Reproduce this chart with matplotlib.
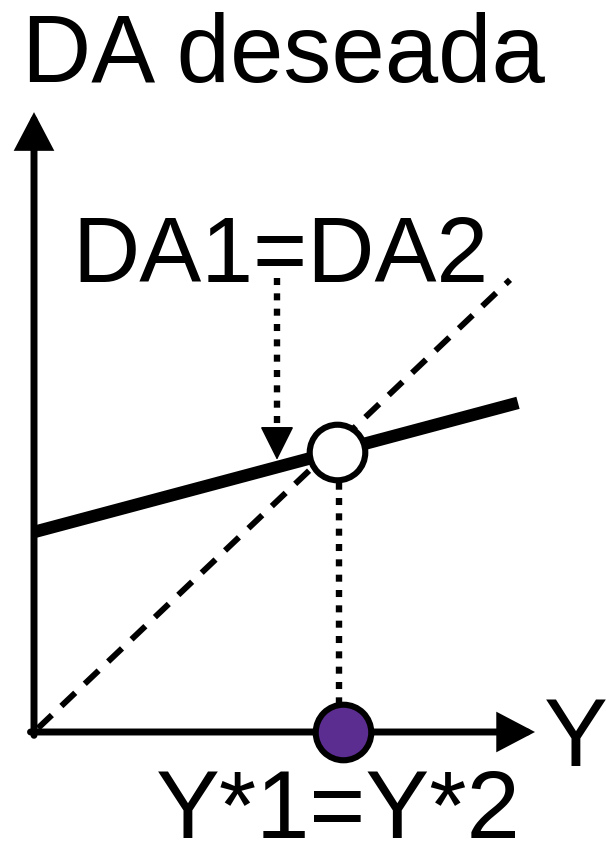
import matplotlib
matplotlib.use("Agg")
import matplotlib.pyplot as plt
from matplotlib.patches import ArrowStyle

# ---- data (diagram units) ----
y_axis_label = "DA deseada"
x_axis_label = "Y"
eq_label = "DA1=DA2"
ystar_label = "Y*1=Y*2"

line45_Y = [0.08, 9.52]          # 45-degree line DA = Y
line45_DA = [0.08, 9.52]
da_Y = [0.0, 9.68]               # desired aggregate demand line
da_DA = [4.21, 6.93]
eq_Y = 6.06                      # equilibrium point
eq_DA = 5.89
ystar_Y = 6.18                   # equilibrium output on the Y axis
ystar_DA = 0.0
drop_Y = 6.1                     # vertical dotted drop line
pointer_Y = 4.86                 # dotted arrow pointing at intersection
pointer_DA = [9.56, 6.35, 5.73]  # start, head base, tip
axis_Y_max = 10.02
axis_DA_max = 13.05
purple = "#5c2d91"

W, H = 607, 843
fig = plt.figure(figsize=(W / 100, H / 100), dpi=100)
ax = fig.add_axes([0, 0, 1, 1])
ax.set_xlim(-34 / 50, (W - 34) / 50)
ax.set_ylim(-(H - 732) / 47.5, 732 / 47.5)
ax.axis("off")

def arrow(x0, y0, x1, y1, lw, hl, hw, z=3):
    ax.annotate("", xy=(x1, y1), xytext=(x0, y0),
                arrowprops=dict(arrowstyle=ArrowStyle("-|>", head_length=hl, head_width=hw),
                                mutation_scale=1, lw=lw, color="black",
                                shrinkA=0, shrinkB=0, joinstyle="miter"),
                zorder=z)

# axes with arrows
arrow(0, -0.07, 0, axis_DA_max, 5.0, 20, 10.5)
arrow(-0.07, 0, axis_Y_max, 0, 5.0, 20, 10.5)

# 45-degree dashed line
ax.plot(line45_Y, line45_DA, color="black", lw=4.3, linestyle=(0, (3.2, 2.2)),
        dash_capstyle="butt", zorder=2)
# DA line
ax.plot(da_Y, da_DA, color="black", lw=9, solid_capstyle="butt", zorder=3)

# dotted pointer arrow
ax.plot([pointer_Y, pointer_Y], [pointer_DA[0], pointer_DA[1]], color="black",
        lw=4.6, linestyle=(0, (1.1, 1.3)), dash_capstyle="butt", zorder=3)
arrow(pointer_Y, pointer_DA[1] + 0.05, pointer_Y, pointer_DA[2], 1.0, 22, 11)

# dotted drop line
ax.plot([drop_Y, drop_Y], [eq_DA, ystar_DA], color="black", lw=4.6,
        linestyle=(0, (1.1, 1.3)), dash_capstyle="butt", zorder=3)

# points
ax.plot([eq_Y], [eq_DA], marker="o", ms=40, mfc="white", mec="black", mew=4.4, zorder=5)
ax.plot([ystar_Y], [ystar_DA], marker="o", ms=40, mfc=purple, mec="black", mew=4.4, zorder=5)

fam = ["Liberation Sans", "DejaVu Sans"]
def ptext(x, y, s, fs=69, ha="left"):
    fig.text(x / W, 1 - y / H, s, fontsize=fs, family=fam, ha=ha, va="baseline")

ptext(22, 82, y_axis_label)
ptext(72, 282, eq_label, fs=67)
ptext(544, 766, x_axis_label)
ptext(156, 838, ystar_label)

fig.savefig("out.png", dpi=100)
